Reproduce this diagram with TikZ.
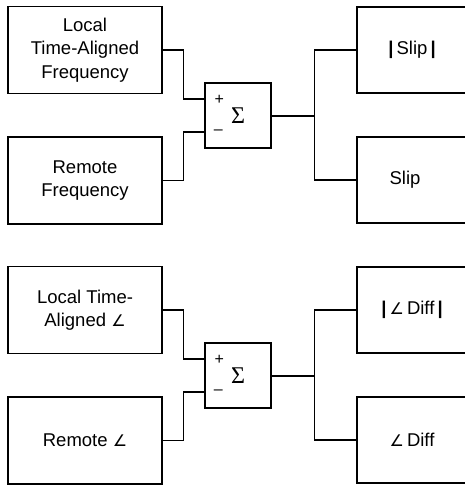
\documentclass[tikz,border=0pt]{standalone}
\usepackage{fontspec}
\setmainfont{Liberation Sans}
\newfontfamily\sumfont{Liberation Serif}
\newfontfamily\angfont{DejaVu Sans}
\newcommand{\ang}{{\angfont\fontsize{16}{16}\selectfont ∠}}
\usepackage{tikz}
\usetikzlibrary{positioning}
\tikzset{
blk/.style = {rectangle, draw=black, line width=1.2pt, align=center, inner sep=0pt,
font=\fontsize{18.5}{23.5}\selectfont},
blk_in/.style = {blk, minimum width=154pt, minimum height=87pt},% bloc d'entree
blk_out/.style = {blk, minimum width=110pt, minimum height=86pt},% bloc de sortie
blk_sum/.style = {blk, minimum width=66pt, minimum height=65pt, font=\sumfont\fontsize{24}{24}\selectfont},% sommateur
sgn/.style = {inner sep=0pt, font=\fontsize{16}{16}\selectfont},% signe + / -
wire/.style = {line width=1.2pt},
wire_out/.style = {line width=2pt}
}
\begin{document}
\begin{tikzpicture}[x=1pt, y=-1pt]
  \useasboundingbox (0,0) rectangle (464,487);
  % frequence
  \node [blk_in] (f_loc) at (85,50) {Local\\Time-Aligned\\Frequency};
  \node [blk_in] (f_rem) at (85,180.5) {Remote\\Frequency};
  \node [blk_sum] (f_sum) at (238,115.5) {Σ};
  \node [sgn] (f_p) at ([xshift=15pt,yshift=16pt]f_sum.west) {+};
  \node [sgn] (f_m) at ([xshift=14pt,yshift=-16.5pt]f_sum.west) {--};
  \node [blk_out] (f_abs) at (412,50) {\textbf{|}\,Slip\,\textbf{|}};
  \node [blk_out] (f_slip) at (412,180) {Slip\hspace*{14pt}};
  \draw [wire] (f_loc.east) -- ++(21,0) |- ([yshift=16.5pt]f_sum.west);
  \draw [wire] (f_rem.east) -- ++(21,0) |- ([yshift=-16.5pt]f_sum.west);
  \draw [wire_out] (f_sum.east) -- ++(43,0) coordinate (f_j);
  \draw [wire] (f_j) |- (f_abs.west);
  \draw [wire] (f_j) |- (f_slip.west);
  % angle
  \node [blk_in] (a_loc) at (85,310) {Local Time-\\Aligned \ang};
  \node [blk_in] (a_rem) at (85,440.5) {Remote \ang};
  \node [blk_sum] (a_sum) at (238,375.5) {Σ};
  \node [sgn] (a_p) at ([xshift=15pt,yshift=16pt]a_sum.west) {+};
  \node [sgn] (a_m) at ([xshift=14pt,yshift=-16.5pt]a_sum.west) {--};
  \node [blk_out] (a_abs) at (412,310) {\textbf{|}\,\ang\,Diff\,\textbf{|}};
  \node [blk_out] (a_diff) at (412,440) {\ang\,Diff};
  \draw [wire] (a_loc.east) -- ++(21,0) |- ([yshift=16.5pt]a_sum.west);
  \draw [wire] (a_rem.east) -- ++(21,0) |- ([yshift=-16.5pt]a_sum.west);
  \draw [wire_out] (a_sum.east) -- ++(43,0) coordinate (a_j);
  \draw [wire] (a_j) |- (a_abs.west);
  \draw [wire] (a_j) |- (a_diff.west);
\end{tikzpicture}
\end{document}
